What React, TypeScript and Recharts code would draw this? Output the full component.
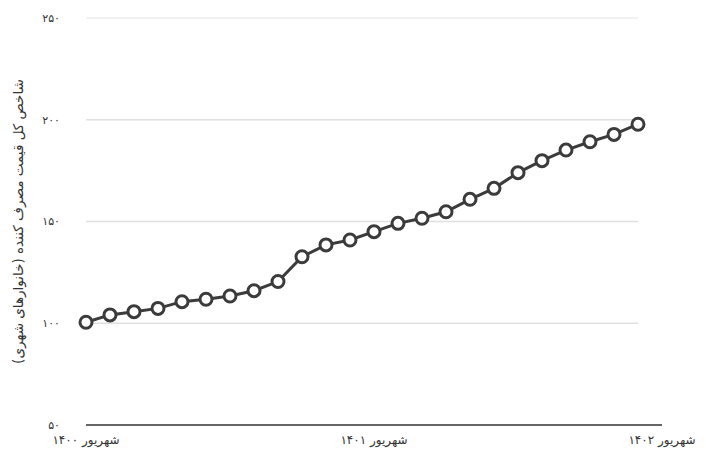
import { Label, Line, LineChart, ReferenceLine, XAxis, YAxis } from "recharts"

// ماه‌ها از شهریور ۱۴۰۰ تا شهریور ۱۴۰۲
const months = [
    "شهریور ۱۴۰۰", "مهر ۱۴۰۰", "آبان ۱۴۰۰", "آذر ۱۴۰۰", "دی ۱۴۰۰", "بهمن ۱۴۰۰",
    "اسفند ۱۴۰۰", "فروردین ۱۴۰۱", "اردیبهشت ۱۴۰۱", "خرداد ۱۴۰۱", "تیر ۱۴۰۱", "مرداد ۱۴۰۱",
    "شهریور ۱۴۰۱", "مهر ۱۴۰۱", "آبان ۱۴۰۱", "آذر ۱۴۰۱", "دی ۱۴۰۱", "بهمن ۱۴۰۱",
    "اسفند ۱۴۰۱", "فروردین ۱۴۰۲", "اردیبهشت ۱۴۰۲", "خرداد ۱۴۰۲", "تیر ۱۴۰۲", "مرداد ۱۴۰۲",
    "شهریور ۱۴۰۲",
]

// شاخص کل قیمت مصرف کننده (last month has no value yet)
const cpi = [
    100.5, 104.1, 105.7, 107.3, 110.6, 111.8, 113.4, 116.0, 120.5, 132.7, 138.5, 140.9,
    145.0, 149.1, 151.6, 154.8, 160.9, 166.3, 174.0, 179.9, 185.1, 189.2, 192.8, 197.8,
    null,
]

const yTicks = [50, 100, 150, 200, 250]
const gridValues = [100, 150, 200, 250]
const yTitle = "شاخص کل قیمت مصرف کننده (خانوارهای شهری)"

const toFa = (v: number | string) =>
    String(v).replace(/[0-9]/g, (d) => "۰۱۲۳۴۵۶۷۸۹"[Number(d)])

const data = months.map((m, i) => ({ month: m, value: cpi[i] }))

const font = "'DejaVu Sans', sans-serif"

export default function App() {
    return (
        <div style={{ position: "absolute", left: 0, top: 0, background: "#fff" }}>
            <LineChart
                width={706}
                height={452}
                data={data}
                margin={{ top: 18, right: 44, left: 0, bottom: 7 }}
            >
                {/* grid only runs as far as the last data point */}
                {gridValues.map((v) => (
                    <ReferenceLine
                        key={v}
                        segment={[
                            { x: months[0], y: v },
                            { x: months[cpi.length - 2], y: v },
                        ]}
                        stroke={v === 250 ? "#ececec" : "#e0e0e0"}
                        strokeWidth={1.5}
                    />
                ))}
                <XAxis
                    dataKey="month"
                    interval={11}
                    tickLine={false}
                    axisLine={{ stroke: "#333", strokeWidth: 1.5 }}
                    height={20}
                    tick={{ fill: "#333", fontSize: 12, fontFamily: font }}
                    tickMargin={4}
                />
                <YAxis
                    domain={[50, 250]}
                    ticks={yTicks}
                    width={86}
                    axisLine={false}
                    tickLine={false}
                    tickMargin={20}
                    tickFormatter={toFa}
                    tick={{ fill: "#333", fontSize: 11, fontFamily: font }}
                >
                    <Label
                        value={yTitle}
                        angle={-90}
                        position="insideLeft"
                        offset={18}
                        style={{ textAnchor: "middle", fill: "#333", fontSize: 13.5, fontFamily: font }}
                    />
                </YAxis>
                <Line
                    type="linear"
                    dataKey="value"
                    stroke="#3b3b3b"
                    strokeWidth={3}
                    dot={{ r: 6, fill: "#fff", stroke: "#3b3b3b", strokeWidth: 3 }}
                    isAnimationActive={false}
                />
            </LineChart>
        </div>
    )
}
